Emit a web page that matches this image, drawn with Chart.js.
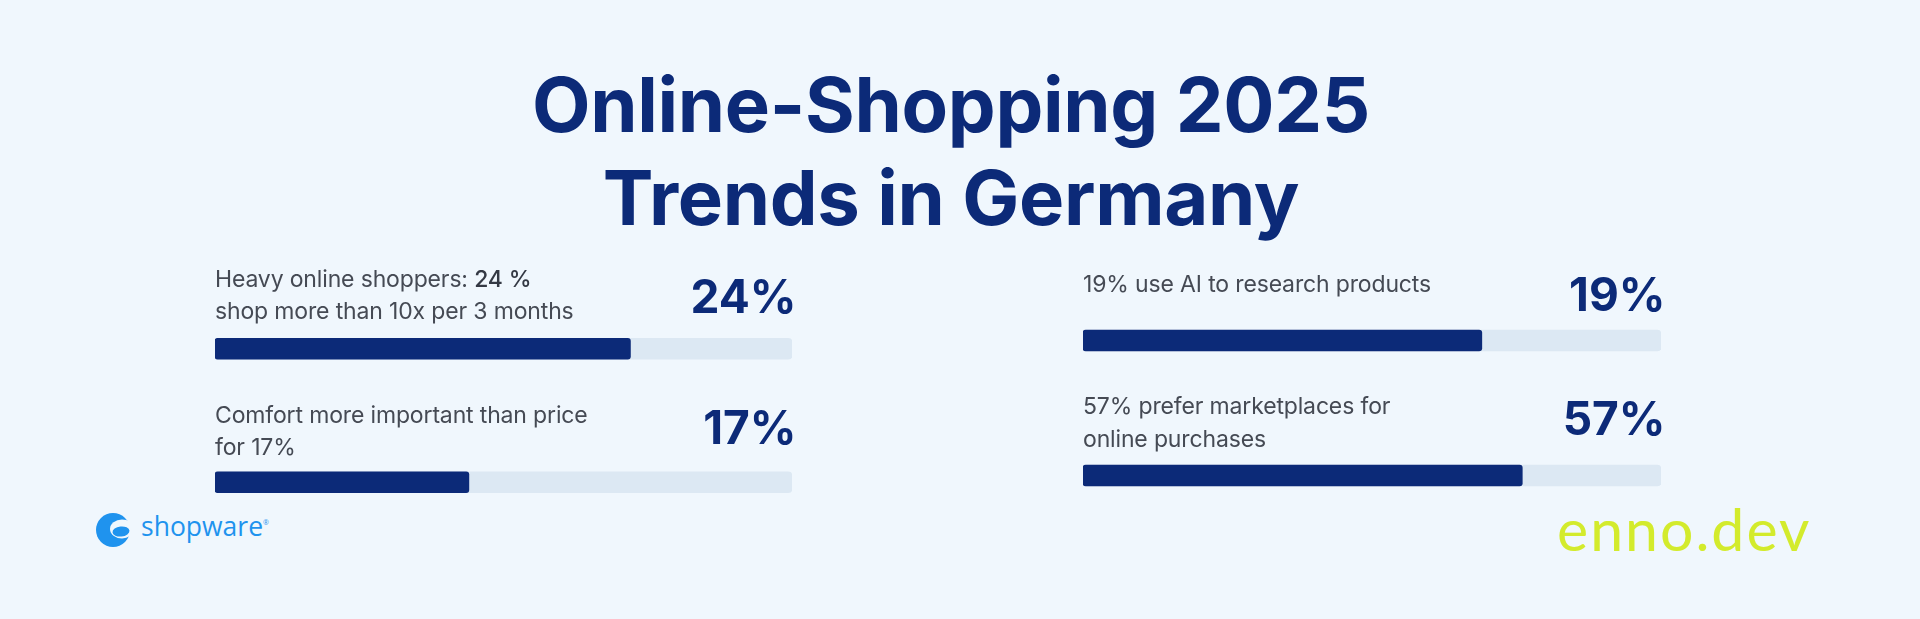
<!DOCTYPE html>
<html><head><meta charset="utf-8">
<script src="https://cdn.jsdelivr.net/npm/chart.js@4.4.1/dist/chart.umd.min.js"></script>
<style>
html,body{margin:0;padding:0;width:1920px;height:619px;overflow:hidden;background:#f0f7fd;}
canvas{position:absolute;left:0;top:0;}
.title{position:absolute;left:0;width:1902px;text-align:center;font-family:Inter,sans-serif;font-weight:700;font-size:76px;color:#0c2a78;line-height:93px;top:58px;white-space:nowrap;letter-spacing:-0.3px;}
.sw{position:absolute;left:141px;top:506px;font-family:"Open Sans",sans-serif;font-weight:500;font-size:26.5px;color:#1f93ee;line-height:40px;white-space:nowrap;}
.sw sup{font-size:7px;vertical-align:top;position:relative;top:-3px;}
.enno{position:absolute;left:1557px;top:489px;font-family:Lato,sans-serif;font-weight:400;font-size:59px;color:#d3eb2c;line-height:80px;letter-spacing:2px;white-space:nowrap;}
.icon{position:absolute;left:96px;top:513px;}
</style></head>
<body>
<div class="title">Online-Shopping 2025<br>Trends in Germany</div>
<svg class="icon" width="34" height="34" viewBox="0 0 34 34">
  <circle cx="17" cy="17" r="17" fill="#1f93ee"/>
  <ellipse cx="26" cy="16" rx="12" ry="9.5" fill="#f0f7fd"/>
  <ellipse cx="25" cy="18.5" rx="8.5" ry="5" fill="#1f93ee" transform="rotate(-6 25 18.5)"/>
</svg>
<div class="sw">shopware<sup>®</sup></div>
<div class="enno">enno.dev</div>
<canvas id="left" width="1920" height="619"></canvas>
<canvas id="right" width="1920" height="619"></canvas>
<script>
// ---- data ----
const leftCategories = ['Heavy online shoppers', 'Comfort over price'];
const leftLabels = [
  ['Heavy online shoppers: **24 %**', 'shop more than 10x per 3 months'],
  ['Comfort more important than price', 'for 17%']
];
const leftPercent = [24, 17];
const leftBarFill = [72, 44];   // filled share of the track as drawn

const rightCategories = ['AI research', 'Marketplaces'];
const rightLabels = [
  ['19% use AI to research products'],
  ['57% prefer marketplaces for', 'online purchases']
];
const rightPercent = [19, 57];
const rightBarFill = [69, 76];

const trackMax = [100, 100];

// ---- styling / layout ----
const NAVY = '#0c2a78', TRACK = '#dce8f3', GREY = '#454a54';
const leftStyle  = {lastLine: [19, 16.7], numOff: [25.6, 27.4]};
const rightStyle = {lastLine: [38.3, 18.3], numOff: [19.3, 30]};

const labelPlugin = {
  id: 'barLabels',
  afterDatasetsDraw(chart, args, opts) {
    const ctx = chart.ctx;
    const meta = chart.getDatasetMeta(0);
    meta.data.forEach((bar, i) => {
      const top = bar.y - bar.height / 2;
      const left = bar.base;
      const right = bar.x;
      const lines = opts.labels[i];
      ctx.save();
      ctx.textBaseline = 'alphabetic';
      ctx.textAlign = 'left';
      ctx.letterSpacing = '-0.15px';
      let base = top - opts.lastLine[i] - (lines.length - 1) * 32.5;
      lines.forEach(line => {
        const parts = line.split('**');
        let x = left;
        parts.forEach((p, k) => {
          if (!p) return;
          const bold = k % 2 === 1;
          ctx.font = (bold ? '500 ' : '400 ') + '23px Inter';
          ctx.fillStyle = bold ? '#343944' : GREY;
          ctx.fillText(p, x, base);
          x += ctx.measureText(p).width;
        });
        base += 32.5;
      });
      ctx.letterSpacing = '0px';
      ctx.font = '700 46px Inter';
      ctx.fillStyle = NAVY;
      ctx.textAlign = 'right';
      ctx.fillText(opts.percent[i] + '%', right + 4.5, top - opts.numOff[i]);
      ctx.restore();
    });
  }
};

function makeChart(id, cats, fill, labels, percent, style, pad) {
  return new Chart(document.getElementById(id), {
    type: 'bar',
    data: {
      labels: cats,
      datasets: [
        {data: trackMax, backgroundColor: TRACK, order: 2, grouped: false,
         barThickness: 21, borderRadius: 4, borderSkipped: false},
        {data: fill, backgroundColor: NAVY, order: 1, grouped: false,
         barThickness: 21, borderRadius: 3, borderSkipped: false}
      ]
    },
    options: {
      indexAxis: 'y',
      responsive: false,
      devicePixelRatio: 1,
      animation: false,
      events: [],
      layout: {padding: pad},
      scales: {
        x: {display: false, min: 0, max: 100},
        y: {display: false}
      },
      plugins: {
        legend: {display: false},
        tooltip: {enabled: false},
        barLabels: {labels: labels, percent: percent, lastLine: style.lastLine, numOff: style.numOff}
      }
    },
    plugins: [labelPlugin]
  });
}

makeChart('left', leftCategories, leftBarFill, leftLabels, leftPercent, leftStyle,
  {left: 215, right: 1920 - 792, top: 282, bottom: 619 - 549});
makeChart('right', rightCategories, rightBarFill, rightLabels, rightPercent, rightStyle,
  {left: 1083, right: 1920 - 1661, top: 273, bottom: 619 - 543});
</script>
</body></html>
